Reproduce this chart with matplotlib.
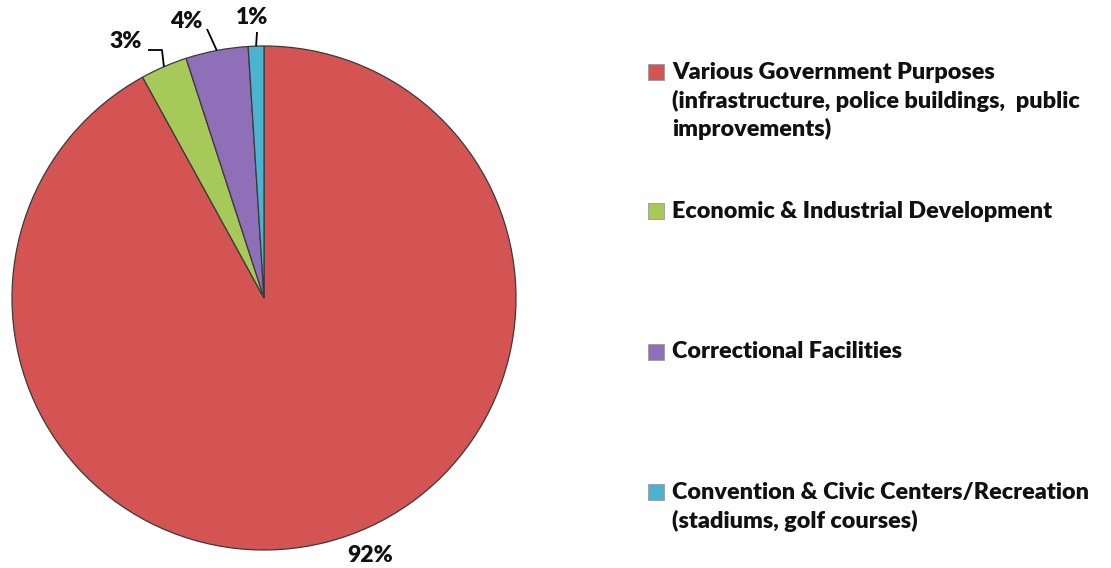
import matplotlib
matplotlib.use("Agg")
import matplotlib.pyplot as plt
from matplotlib.patches import Rectangle
import numpy as np

categories = [
    "Various Government Purposes\n(infrastructure, police buildings,  public\nimprovements)",
    "Economic & Industrial Development",
    "Correctional Facilities",
    "Convention & Civic Centers/Recreation\n(stadiums, golf courses)",
]
values = [92, 3, 4, 1]
pct_labels = ["92%", "3%", "4%", "1%"]
colors = ["#D35452", "#A6C95A", "#8E6FB8", "#4BB3D0"]

W, H = 1111, 568
fig = plt.figure(figsize=(W / 100, H / 100), dpi=100)
FONT = "Lato"
WEIGHT = "heavy"

# pie axes: centre (264, 298) px, radius 252 px
cx, cy, R = 264, 298, 252
ax = fig.add_axes([(cx - R) / W, (H - cy - R) / H, 2 * R / W, 2 * R / H])
wedges, _ = ax.pie(values, colors=colors, startangle=90, counterclock=False,
                   radius=1.0,
                   wedgeprops=dict(edgecolor="#3a3a3a", linewidth=0.9))
ax.set_xlim(-1, 1)
ax.set_ylim(-1, 1)
ax.set_aspect("equal")
ax.axis("off")

def px2d(x, y):
    return ((x - cx) / R, (cy - y) / R)

# label positions (pixel centres) and leader elbow points
label_pos = [(370, 555), (126, 42), (186, 22), (252, 18)]
leaders = [None, [(162, 50), (148, 50)], [(207, 29)], [(257, 32)]]

for w, lab, pos, ld in zip(wedges, pct_labels, label_pos, leaders):
    lx, ly = px2d(*pos)
    ax.text(lx, ly, lab, ha="center", va="center", fontsize=16.5,
            fontweight=WEIGHT, family=FONT, color="#111111", clip_on=False)
    if ld is not None:
        mid = np.deg2rad((w.theta1 + w.theta2) / 2)
        pts = [(np.cos(mid), np.sin(mid))] + [px2d(*p) for p in ld]
        xs, ys = zip(*pts)
        ax.plot(xs, ys, color="black", lw=1.3, clip_on=False,
                solid_capstyle="butt")

# legend drawn manually
legend_rows = [72, 211, 352, 492]
line_gap = 28.5
for lab, col, y0 in zip(categories, colors, legend_rows):
    fig.patches.append(Rectangle((648 / W, (H - y0 - 8) / H), 16 / W, 16 / H,
                                 transform=fig.transFigure, facecolor=col,
                                 edgecolor="#999999", linewidth=0.6))
    for i, line in enumerate(lab.split("\n")):
        fig.text(672 / W, (H - (y0 + i * line_gap)) / H, line,
                 ha="left", va="center", fontsize=16.8, fontweight=WEIGHT,
                 family=FONT, color="#111111")

fig.savefig("out.png", dpi=100)
